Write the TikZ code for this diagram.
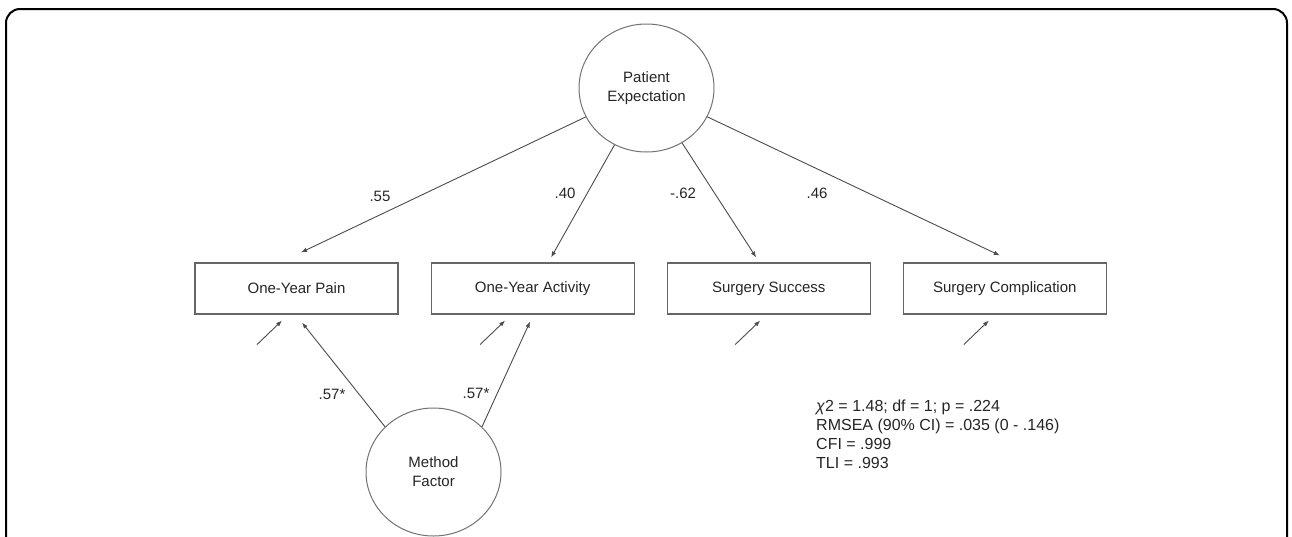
\documentclass[tikz,border=0pt]{standalone}
\usepackage{fontspec}
\setmainfont{Liberation Sans}
\usetikzlibrary{arrows.meta, positioning, calc, shapes.geometric}

\begin{document}
\begin{tikzpicture}[
    x=1pt, y=-1pt,
    font=\fontsize{15}{19}\selectfont,
    text=black!85,
    >={Latex[length=6pt,width=4.5pt]},
    latent/.style={
      draw=black!55,
      ellipse,
      line width=1pt,
      align=center,
      minimum width=135pt,
      minimum height=128pt,
      inner sep=0pt
    },
    observed/.style={
      draw=black!60,
      line width=1.1pt,
      minimum width=203pt,
      minimum height=51pt,
      inner sep=0pt
    },
    loading/.style={->, draw=black!70, line width=0.9pt},
    coef/.style={inner sep=0pt},
    node distance=32pt
]

% canvas and frame
\useasboundingbox (0,0) rectangle (1292,536);
\fill[white] (0,0) rectangle (1292,536);
\clip (0,0) rectangle (1292,536);
\draw[line width=2pt, rounded corners=14pt] (6,9) rectangle (1287,620);

% 1) Latent factors
\node[latent] (pe) at (646.5,88) {Patient\\Expectation};
\node[latent] (mf) at (433.5,472) {Method\\Factor};

% 2) Observed outcomes
\node[observed] (pain) at (296.5,288.5) {One-Year Pain};
\node[observed, right=of pain] (act) {One-Year Activity};
\node[observed, right=of act] (succ) {Surgery Success};
\node[observed, right=of succ] (comp) {Surgery Complication};

% ARROWS
% expectation -> outcomes
\draw[loading] (pe) -- ($(pain.north)+(4.5,-10)$);
\draw[loading] (pe) -- ($(act.north)+(18.5,-5)$);
\draw[loading] (pe) -- ($(succ.north)+(-12.5,-5)$);
\draw[loading] (pe) -- ($(comp.north)+(-5,-7)$);

% method factor -> self-reports
\draw[loading] (mf.137) -- ($(pain.south)+(5.5,8)$);
\draw[loading] (mf.43) -- ($(act.south)+(-2.5,7)$);

% residuals
\foreach \b/\dx in {pain/-14.5, act/-27.5, succ/-8.5, comp/-16}
  \draw[loading] ($(\b.south)+({\dx-25},30)$) -- ($(\b.south)+(\dx,6)$);

% coefficients
\node[coef] (c55) at (380,196) {.55};
\node[coef] (c40) at (565,193) {.40};
\node[coef] (c62) at (683,193) {-.62};
\node[coef] (c46) at (817,193) {.46};
\node[coef] (m1) at (332,394) {.57*};
\node[coef] (m2) at (476,393) {.57*};

% fit indices
\node[align=left, anchor=north west, inner sep=0pt,
      font=\fontsize{16}{19}\selectfont] (fit) at (816,400)
  {\textit{χ}2 = 1.48; df = 1; p = .224\\
   RMSEA (90\% CI) = .035 (0 - .146)\\
   CFI = .999\\
   TLI = .993};

\end{tikzpicture}
\end{document}
